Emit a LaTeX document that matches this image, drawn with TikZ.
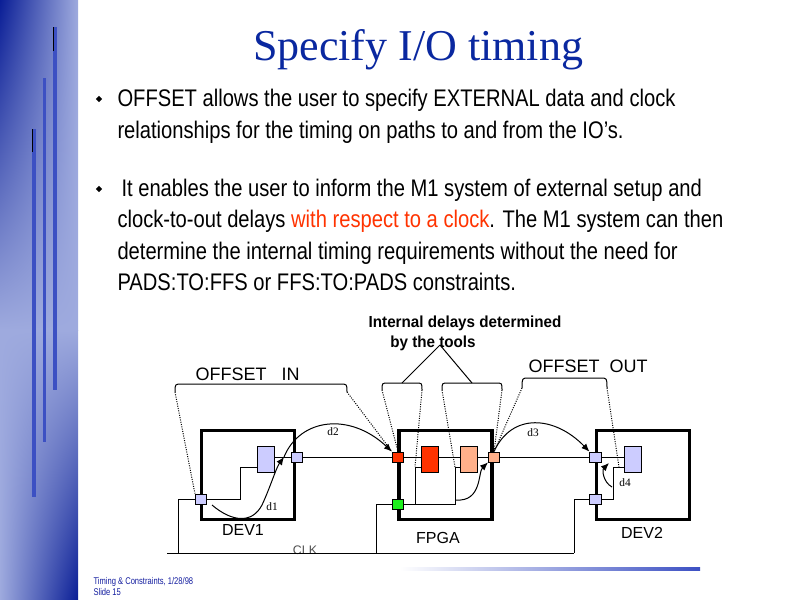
\documentclass[tikz,border=0pt]{standalone}
\usepackage{fontspec}
\setmainfont{Liberation Sans}
\newfontfamily\bodyfont[FakeStretch=0.84]{Liberation Sans}
\newfontfamily\footfont[FakeStretch=0.78]{Liberation Sans}
\newfontfamily\boldnarrow[FakeStretch=0.95]{Liberation Sans}
\newfontfamily\seriffont{Liberation Serif}
\usetikzlibrary{arrows.meta,shapes.geometric,shadings}
\definecolor{titleblue}{RGB}{10,40,160}
\definecolor{lav}{RGB}{204,204,255}
\definecolor{fred}{RGB}{255,51,0}
\definecolor{fsal}{RGB}{255,176,138}
\definecolor{fgreen}{RGB}{30,240,30}
\definecolor{sidedark}{RGB}{10,30,150}
\definecolor{sidelight}{RGB}{158,170,222}
\definecolor{barblue}{RGB}{60,80,195}
\definecolor{footblue}{RGB}{20,30,160}
\definecolor{clkgray}{RGB}{80,80,80}
\begin{document}
\begin{tikzpicture}[x=0.75pt,y=-0.75pt,line width=0.75pt,
  devbox/.style={draw, line width=2.6pt, minimum width=70pt, minimum height=66.5pt, inner sep=0pt},
  padbox/.style={draw, line width=0.6pt, minimum width=8.5pt, minimum height=7.5pt, inner sep=0pt},
  ffbox/.style={draw, line width=0.6pt, minimum width=12.75pt, minimum height=19.5pt, inner sep=0pt},
  dotline/.style={densely dotted, line width=0.75pt},
  arr/.style={-{Latex[length=6pt,width=5pt]}},
  dlab/.style={font=\seriffont\fontsize{8.5}{9}\selectfont, inner sep=0pt},
  devlab/.style={font=\fontsize{12}{13}\selectfont, inner sep=0pt},
  offlab/.style={font=\fontsize{13.5}{15}\selectfont, inner sep=0pt, anchor=base west},
  intlab/.style={font=\boldnarrow\bfseries\fontsize{12}{13}\selectfont, inner sep=0pt, anchor=base},
  bodytext/.style={anchor=base west, inner sep=0pt, font=\bodyfont\fontsize{18}{20}\selectfont},
  bullet/.style={diamond, fill=black, inner sep=0pt, minimum size=5pt},
  footlab/.style={anchor=base west, inner sep=0pt, text=footblue, font=\footfont\fontsize{7.3}{8}\selectfont}]
\useasboundingbox (0,0) rectangle (800,600);
\fill[white] (0,0) rectangle (800,600);
% sidebar
\shade[upper left=sidedark, upper right=sidelight, lower left=sidelight, lower right=sidelight] (0,0) rectangle (78,330);
\shade[upper left=sidelight, upper right=sidelight, lower left=sidelight, lower right=sidedark] (0,330) rectangle (78,600);
\fill[barblue] (32,129) rectangle (36,497);
\fill[barblue] (42.7,78) rectangle (46,442);
\fill[barblue] (52.7,27) rectangle (56.7,390);
\fill[black] (31.8,129) rectangle (32.8,152);
\fill[black] (53,27) rectangle (54,51);
% title
\node[anchor=base, text=titleblue, font=\seriffont\fontsize{33}{36}\selectfont, inner sep=0pt] (title) at (418,60) {Specify I/O timing};
% body
\node[bullet] (bu1) at (99,99) {};
\node[bullet] (bu2) at (99,189) {};
\node[bodytext] (l1) at (117,106) {OFFSET allows the user to specify EXTERNAL data and clock};
\node[bodytext] (l2) at (117,138) {relationships for the timing on paths to and from the IO’s.};
\node[bodytext] (l3) at (121,196) {It enables the user to inform the M1 system of external setup and};
\node[bodytext] (l4) at (117,227) {clock-to-out delays \textcolor{fred}{with respect to a clock}. The M1 system can then};
\node[bodytext] (l5) at (117,259) {determine the internal timing requirements without the need for};
\node[bodytext] (l6) at (117,290) {PADS:TO:FFS or FFS:TO:PADS constraints.};
% boxes
\node[devbox] (dev1) at (248,475) {};
\node[devbox] (fpga) at (445.5,475) {};
\node[devbox] (dev2) at (643,475) {};
% flip-flops
\node[ffbox, fill=lav] (ff1) at (265.5,459.5) {};
\node[ffbox, fill=fred] (ffr) at (429.5,459) {};
\node[ffbox, fill=fsal] (ffs) at (468.5,459) {};
\node[ffbox, fill=lav] (ff2) at (632.5,459) {};
% pads
\node[padbox, fill=lav] (p1clk) at (201,499) {};
\node[padbox, fill=lav] (p1out) at (297,457) {};
\node[padbox, fill=fred] (pfin) at (398,457) {};
\node[padbox, fill=fgreen] (pfclk) at (398,504) {};
\node[padbox, fill=fsal] (pfout) at (494,457) {};
\node[padbox, fill=lav] (p2in) at (595.5,457) {};
\node[padbox, fill=lav] (p2clk) at (595.5,499) {};
% labels
\node[devlab] (ldev1) at (243,530) {DEV1};
\node[devlab] (lfpga) at (438,538) {FPGA};
\node[devlab] (ldev2) at (642,533) {DEV2};
\node[anchor=base, inner sep=0pt, text=clkgray, font=\fontsize{9.3}{10}\selectfont] (lclk) at (305,554.5) {CLK};
\node[offlab] (loin) at (195,380) {OFFSET\ \ \ IN};
\node[offlab] (loout) at (528,372) {OFFSET\ \ OUT};
\node[intlab] (lint) at (465,327) {Internal delays determined};
\node[intlab] (ltools) at (433,347) {by the tools};
\node[dlab] (ld1) at (272,507) {d1};
\node[dlab] (ld2) at (333,432) {d2};
\node[dlab] (ld3) at (533,433) {d3};
\node[dlab] (ld4) at (625,483) {d4};
% coordinates
\coordinate (clkL) at (167,553);
\coordinate (clkR) at (574,553);
\coordinate (j1) at (178,553);
\coordinate (j2) at (376,553);
\coordinate (c1) at (240,467);
\coordinate (b1) at (415,504);
\coordinate (b2) at (455,504);
\coordinate (t1) at (415,467);
\coordinate (t2) at (455,467);
\coordinate (c2) at (613,467);
\coordinate (d1s) at (212,505);
\coordinate (d1e) at (284,457);
\coordinate (ci) at (456,500);
\coordinate (d4s) at (612,487);
\coordinate (d4e) at (609,463);
\coordinate (oo) at (619,467);
\coordinate (apex) at (440,345);
% clock network
\draw (clkL) -- (clkR);
\draw (p1clk.west) -| (j1);
\draw (pfclk.west) -| (j2);
\draw (p2clk.west) -| (clkR);
\draw (p1clk.east) -| (c1) -- (ff1.west |- c1);
\draw (pfclk.east) -- (b2) -- (t2) -- (ffs.west |- t2);
\draw (b1) -- (t1) -- (ffr.west |- t1);
\draw (p2clk.east) -| (c2) -- (ff2.west |- c2);
% data network
\draw (ff1.east |- p1out) -- (p1out.west);
\draw (p1out.east) -- (pfin.west);
\draw (pfin.east) -- (ffr.west |- pfin);
\draw (ffr.east |- pfin) -- (ffs.west |- pfin);
\draw (ffs.east |- pfin) -- (pfout.west);
\draw (pfout.east) -- (p2in.west);
\draw (p2in.east) -- (ff2.west |- p2in);
% delay curves
\draw[arr] (d1s) .. controls (232,522) and (252,524) .. (262,505) .. controls (270,488) and (276,468) .. (d1e);
\draw[arr] (d1e) .. controls (300,418) and (350,412) .. (pfin.north west);
\draw[arr] (ci) .. controls (482,502) and (478,472) .. (pfout.south west);
\draw[arr] (pfout.north) .. controls (512,412) and (555,416) .. (p2in.north west);
\draw[arr] (d4s) .. controls (603,482) and (602,470) .. (d4e);
% OFFSET IN bracket
\draw (175,392) .. controls (175,384) .. (182,384) -- (340,384) .. controls (347,384) .. (347,392);
\draw[dotline] (175,392) -- (p1clk.north west);
\draw[dotline] (347,392) -- (pfin.north west);
% internal brackets
\draw (382,390) .. controls (382,383) .. (388,383) -- (416,383) .. controls (422,383) .. (422,390);
\draw[dotline] (382,390) -- (pfin.north);
\draw[dotline] (422,390) -- (t1);
\draw (442,390) .. controls (442,383) .. (448,383) -- (496,383) .. controls (502,383) .. (502,390);
\draw[dotline] (442,390) -- (t2);
\draw[dotline] (502,390) -- (pfout.north);
\draw (apex) -- (402,383);
\draw (apex) -- (472,383);
% OFFSET OUT bracket
\draw (522,388) .. controls (522,378) .. (529,378) -- (600,378) .. controls (607,378) .. (607,388);
\draw[dotline] (522,388) -- (pfout.north);
\draw[dotline] (607,388) -- (oo);
% footer
\shade[left color=white, right color=barblue] (400,567.5) rectangle (700,570.5);
\node[footlab] (f1) at (93,584) {Timing \& Constraints, 1/28/98};
\node[footlab] (f2) at (93,595) {Slide 15};
\end{tikzpicture}
\end{document}
